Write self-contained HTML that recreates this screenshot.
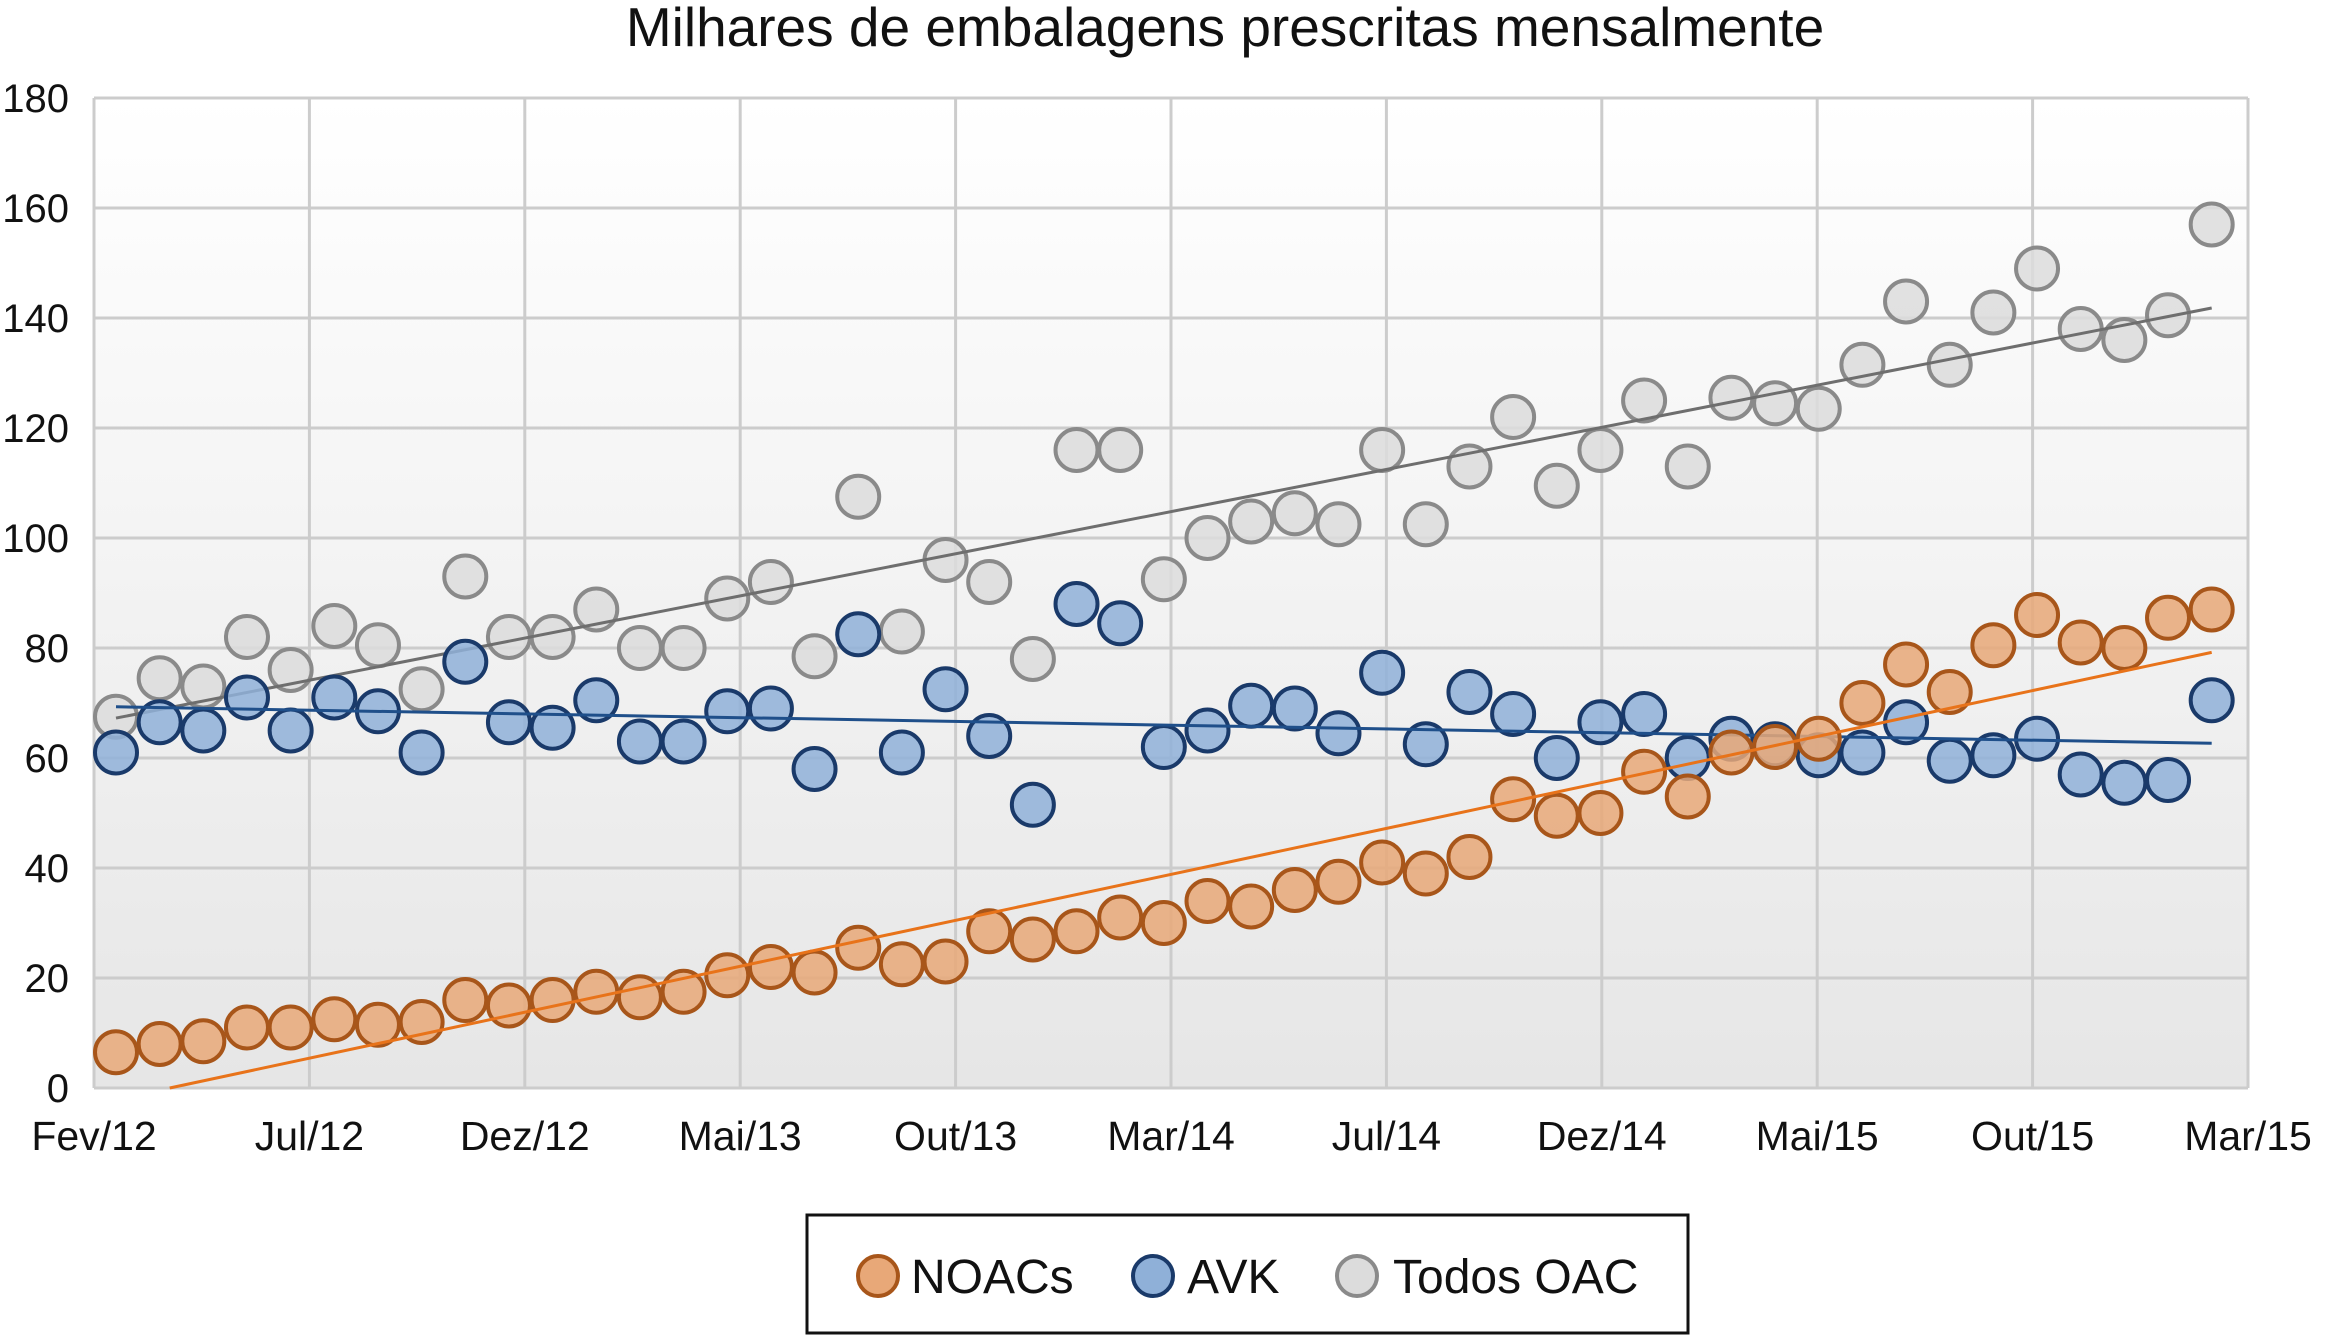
<!DOCTYPE html>
<html><head><meta charset="utf-8"><style>
html,body{margin:0;padding:0;background:#fff;}
svg{display:block;font-family:"Liberation Sans",sans-serif;}
</style></head><body>
<svg id="chart" width="2327" height="1337" viewBox="0 0 2327 1337" xmlns="http://www.w3.org/2000/svg">
<defs>
<linearGradient id="bg" x1="0" y1="0" x2="0" y2="1"><stop offset="0" stop-color="#ffffff"/><stop offset="1" stop-color="#e6e6e6"/></linearGradient>
</defs>
<text x="1225" y="46" font-size="55" text-anchor="middle" fill="#111">Milhares de embalagens prescritas mensalmente</text>
<rect x="94" y="98" width="2154" height="990" fill="url(#bg)"/>
<g id="grid"></g><g id="axes"></g><g id="series"></g>
<g>
<rect x="807" y="1215" width="881" height="118" fill="#fff" stroke="#111" stroke-width="3"/>
<g><circle cx="878" cy="1276" r="20" fill="#e8a878" stroke="#a8561a" stroke-width="4"/><text x="911" y="1293" font-size="48" fill="#111">NOACs</text></g>
<g><circle cx="1153" cy="1276" r="20" fill="#8fb0d8" stroke="#1a3a6a" stroke-width="4"/><text x="1187" y="1293" font-size="48" fill="#111">AVK</text></g>
<g><circle cx="1357" cy="1276" r="20" fill="#dcdcdc" stroke="#8a8a8a" stroke-width="4"/><text x="1393" y="1293" font-size="48" fill="#111">Todos OAC</text></g>
</g>
</svg>
<script>
const xTickLabels=["Fev/12","Jul/12","Dez/12","Mai/13","Out/13","Mar/14","Jul/14","Dez/14","Mai/15","Out/15","Mar/15"];
const yTicks=[0,20,40,60,80,100,120,140,160,180];
const todos=[67.5,74.5,73,82,76,84,80.5,72.5,93,82,82,87,80,80,89,92,78.5,107.5,83,96,92,78,116,116,92.5,100,103,104.5,102.5,116,102.5,113,122,109.5,116,125,113,125.5,124.5,123.5,131.5,143,131.5,141,149,138,136,140.5,157];
const avk=[61,66.5,65,71,65,71,68.5,61,77.5,66.5,65.5,70.5,63,63,68.5,69,58,82.5,61,72.5,64,51.5,88,84.5,62,65,69.5,69,64.5,75.5,62.5,72,68,60,66.5,68,60,63.5,62.5,60.5,61,66.5,59.5,60.5,63.5,57,55.5,56,70.5];
const noacs=[6.5,8,8.5,11,11,12.5,11.5,12,16,15,16,17.5,16.5,17.5,20.5,22,21,25.5,22.5,23,28.5,27,28.5,31,30,34,33,36,37.5,41,39,42,52.5,49.5,50,57.5,53,61,62,63.5,70,77,72,80.5,86,81,80,85.5,87];
const NS="http://www.w3.org/2000/svg";
const L=94,R=2248,T=98,B=1088;
function y(v){return B-(v/180)*(B-T);}
function x(i){return 116+i*43.66;}
function tickX(k){return L+k*(R-L)/10;}
function mk(tag,attrs,parent){const e=document.createElementNS(NS,tag);for(const k in attrs)e.setAttribute(k,attrs[k]);parent.appendChild(e);return e;}
const grid=document.getElementById('grid'),axes=document.getElementById('axes'),ser=document.getElementById('series');
yTicks.forEach(v=>{
 const l=mk('line',{x1:L,x2:R,y1:y(v),y2:y(v),stroke:'#cccccc','stroke-width':3},grid);
 
 
 const t=mk('text',{x:69,y:y(v)+14,'font-size':40,'text-anchor':'end',fill:'#111'},axes);
 t.textContent=v;
 
 
});
xTickLabels.forEach((s,k)=>{
 const l=mk('line',{x1:tickX(k),x2:tickX(k),y1:T,y2:B,stroke:'#cccccc','stroke-width':3},grid);
 
 
 const t=mk('text',{x:tickX(k),y:1150,'font-size':41,'text-anchor':'middle',fill:'#111'},axes);
 t.textContent=s;
 
 
});
function trend(arr,color,name){
 const n=arr.length;let sx=0,sy=0,sxx=0,sxy=0;
 arr.forEach((v,i)=>{sx+=i;sy+=v;sxx+=i*i;sxy+=i*v;});
 const b=(n*sxy-sx*sy)/(n*sxx-sx*sx),a=(sy-b*sx)/n;
 let i0=0;if(a<0){i0=-a/b;}
 const l=mk('line',{x1:x(i0),y1:y(a+b*i0),x2:x(n-1),y2:y(a+b*(n-1)),stroke:color,'stroke-width':3},ser);
 
 
}
function series(arr,fill,stroke,name){
 const g=mk('g',{},ser);
 
 
 arr.forEach((v,i)=>{
  const c=mk('circle',{cx:x(i),cy:y(v),r:21,fill:fill,'fill-opacity':0.85,stroke:stroke,'stroke-width':4},g);
  
  
 });
}
series(todos,'#dcdcdc','#8a8a8a','todos-oac');
trend(todos,'#6e6e6e','todos-oac-trendline');
series(avk,'#8fb0d8','#1a3a6a','avk');
trend(avk,'#1f4f8a','avk-trendline');
series(noacs,'#e8a878','#a8561a','noacs');
trend(noacs,'#e8731a','noacs-trendline');
</script>
</body></html>
